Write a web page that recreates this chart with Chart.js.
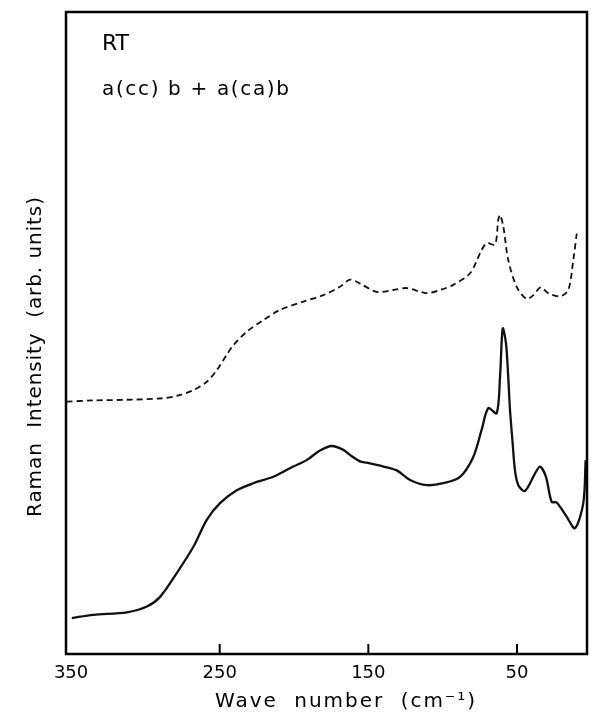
<!DOCTYPE html>
<html>
<head>
<meta charset="utf-8">
<script src="https://cdn.jsdelivr.net/npm/chart.js@4.4.1/dist/chart.umd.min.js"></script>
<style>
  html, body { margin: 0; padding: 0; background: #ffffff; }
  #wrap { width: 591px; height: 712px; }
</style>
</head>
<body>
<div id="wrap"><canvas id="c" width="591" height="712"></canvas></div>
<script>
// ---- data (wave number in cm^-1, intensity in arbitrary units) ----
const tickValues = [350, 250, 150, 50];

const solidWavenumber = [349.5, 335, 312.5, 299, 290.1, 278.9, 267.7, 258.7, 249.8, 238.5,
  227.4, 213.9, 200.5, 191.5, 182.5, 174.6, 166.8, 162.3, 155.6, 151.1,
  139.9, 130.9, 121.9, 110.7, 99.6, 88.3, 79.4, 73.8, 69.3, 63.7,
  61.4, 59.6, 57.4, 55.9, 54.7, 52.9, 51.4, 49.1, 44.6, 37.9,
  34.5, 30.5, 26.7, 23.3, 16.6, 11.0, 5.4, 3.8];
const solidIntensity = [5.6, 6.1, 6.5, 7.4, 8.9, 12.6, 16.7, 20.9, 23.5, 25.5,
  26.6, 27.6, 29.2, 30.2, 31.7, 32.4, 31.8, 31.0, 30.0, 29.8,
  29.2, 28.6, 27.1, 26.3, 26.6, 27.6, 30.7, 34.9, 38.3, 37.5,
  43.2, 50.7, 48.4, 43.2, 38.0, 32.8, 28.7, 26.3, 25.4, 28.1,
  29.2, 27.6, 23.7, 23.6, 21.4, 19.6, 23.5, 30.2];

const dashedWavenumber = [352.9, 335, 312.5, 290.1, 278.9, 267.7, 258.7, 252, 245.3, 240.8,
  231.8, 220.7, 209.4, 193.7, 180.3, 169.1, 162.3, 155.6, 144.4, 133.2,
  124.2, 110.7, 101.8, 92.9, 81.6, 73.8, 70.4, 64.8, 62.6, 61.4,
  59.2, 55.9, 50.2, 43.5, 39.0, 34.1, 28.9, 21.1, 15.5, 12.1, 9.8];
const dashedIntensity = [39.3, 39.5, 39.6, 39.8, 40.2, 41.1, 42.4, 44.2, 46.6, 48.1,
  50.2, 52.0, 53.6, 54.9, 55.9, 57.2, 58.3, 57.7, 56.4, 56.7,
  57.0, 56.2, 56.7, 57.5, 59.3, 62.9, 64.0, 63.8, 67.6, 68.4,
  66.6, 61.4, 57.2, 55.3, 55.9, 57.1, 56.2, 55.7, 56.7, 61.4, 65.5];

const labelRT = "RT";
const labelGeometry = "a(cc) b + a(ca)b";
const xTitle = "Wave  number  (cm\u207B\u00B9)";
const yTitle = "Raman  Intensity  (arb. units)";

// ---- helpers ----
function toPoints(xs, ys) { return xs.map((x, i) => ({ x: x, y: ys[i] })); }

function fittedText(ctx, text, left, cy, width, font) {
  ctx.font = font;
  ctx.letterSpacing = '0px';
  const w = ctx.measureText(text).width;
  const ls = (width - w) / Math.max(1, text.length - 1);
  ctx.letterSpacing = ls.toFixed(2) + 'px';
  ctx.textAlign = 'left';
  ctx.textBaseline = 'middle';
  ctx.fillText(text, left, cy);
  ctx.letterSpacing = '0px';
}

const framePlugin = {
  id: 'frameAndText',
  afterDraw(chart) {
    const ctx = chart.ctx;
    const a = chart.chartArea;
    const xs = chart.scales.x;
    ctx.save();
    ctx.strokeStyle = '#000';
    ctx.fillStyle = '#000';
    ctx.lineWidth = 2.5;
    ctx.strokeRect(a.left, a.top, a.right - a.left, a.bottom - a.top);
    // inward tick marks
    ctx.lineWidth = 2;
    tickValues.forEach(v => {
      const px = xs.getPixelForValue(v);
      if (px - a.left > 6 && a.right - px > 6) {
        ctx.beginPath();
        ctx.moveTo(px, a.bottom);
        ctx.lineTo(px, a.bottom - 10);
        ctx.stroke();
      }
    });
    // annotations
    fittedText(ctx, labelRT, 102, 44, 27, '22px "DejaVu Sans"');
    fittedText(ctx, labelGeometry, 102, 90, 187, '20px "DejaVu Sans"');
    // axis titles
    fittedText(ctx, xTitle, 215, 702, 260, '20px "DejaVu Sans"');
    ctx.translate(36, 357);
    ctx.rotate(-Math.PI / 2);
    fittedText(ctx, yTitle, -160, 0, 320, '20px "DejaVu Sans"');
    ctx.restore();
  }
};

new Chart(document.getElementById('c'), {
  type: 'line',
  data: {
    datasets: [
      {
        label: 'a(cc)b + a(ca)b (dashed)',
        data: toPoints(dashedWavenumber, dashedIntensity),
        borderColor: '#111',
        borderWidth: 1.8,
        borderDash: [6, 4],
        pointRadius: 0,
        fill: false,
        tension: 0.3
      },
      {
        label: 'a(cc)b + a(ca)b (solid)',
        data: toPoints(solidWavenumber, solidIntensity),
        borderColor: '#111',
        borderWidth: 2.3,
        pointRadius: 0,
        fill: false,
        tension: 0.3
      }
    ]
  },
  options: {
    responsive: false,
    animation: false,
    layout: { padding: { left: 66, right: 4, top: 12, bottom: 0 } },
    plugins: { legend: { display: false }, tooltip: { enabled: false } },
    scales: {
      x: {
        type: 'linear',
        reverse: true,
        min: 2.9,
        max: 353.4,
        afterBuildTicks: (s) => { s.ticks = tickValues.map(v => ({ value: v })); },
        afterFit: (s) => { s.height = 58; },
        grid: { display: false, drawTicks: false },
        border: { display: false },
        ticks: {
          color: '#000',
          font: { family: 'DejaVu Sans', size: 18 },
          padding: 9,
          autoSkip: false,
          maxRotation: 0
        }
      },
      y: {
        display: false,
        min: 0,
        max: 100
      }
    }
  },
  plugins: [framePlugin]
});
</script>
</body>
</html>
